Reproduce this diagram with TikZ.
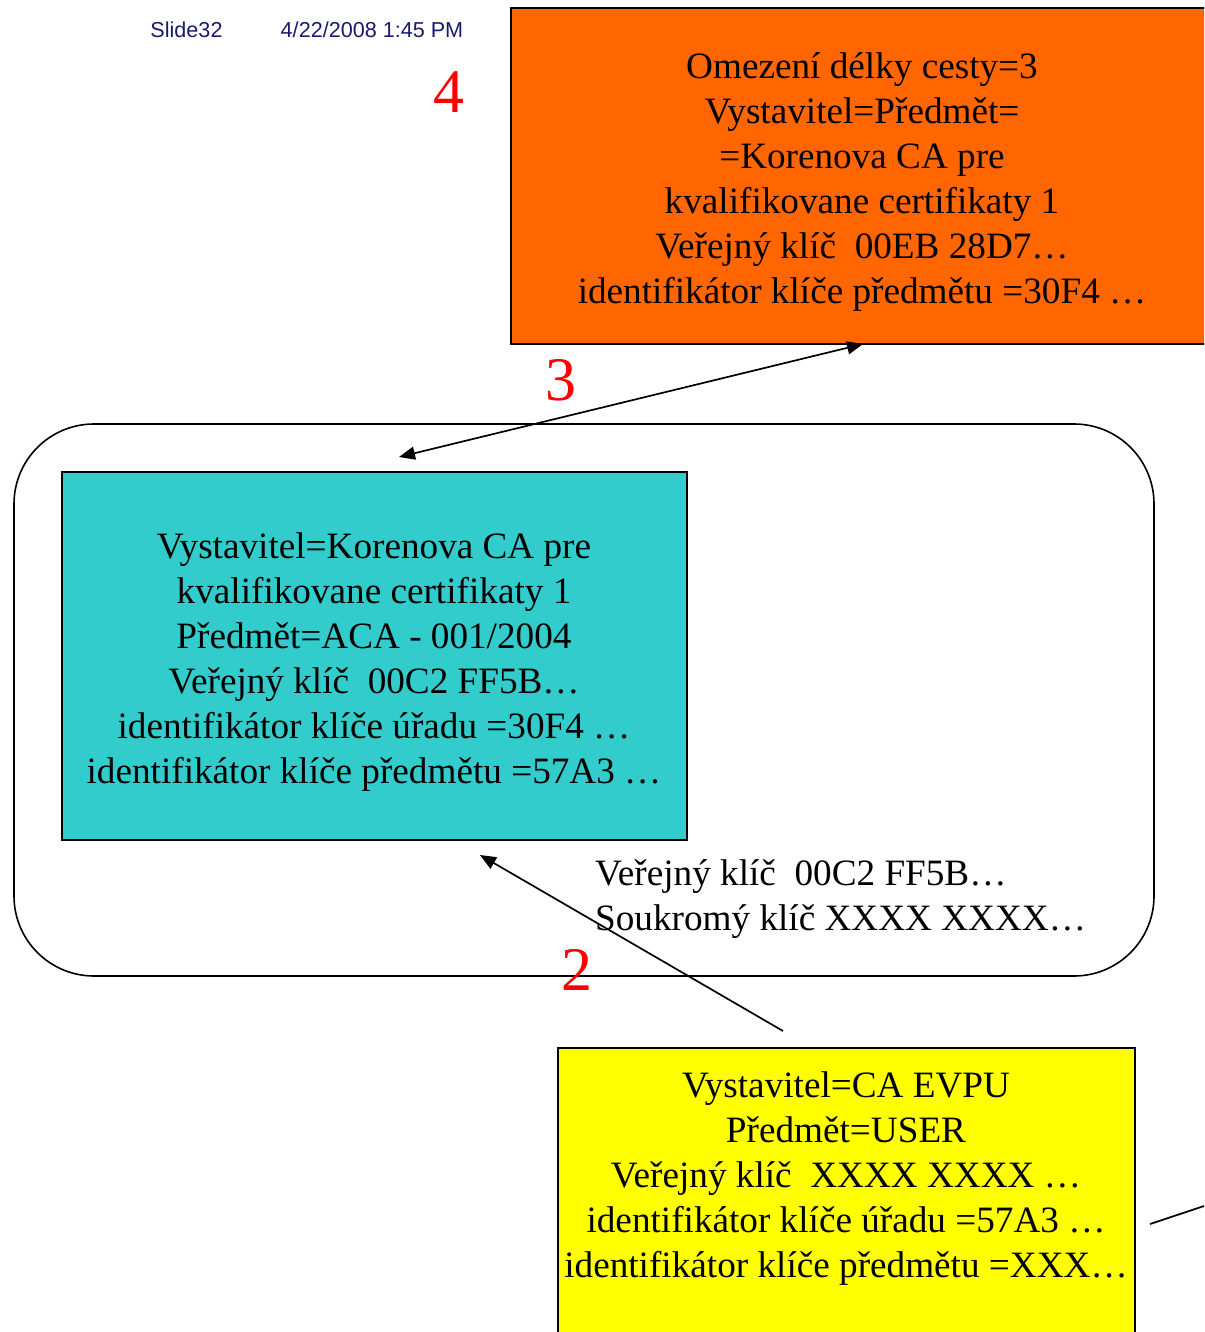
\documentclass[tikz,border=0pt]{standalone}
\usepackage{fontspec}
\setmainfont{Liberation Serif}
\newfontfamily\hdrfont{Liberation Sans}
\usetikzlibrary{arrows.meta}
\definecolor{orangebox}{HTML}{FF6600}
\definecolor{cyanbox}{HTML}{33CCCC}
\definecolor{yellowbox}{HTML}{FFFF00}
\definecolor{hdrblue}{HTML}{1A1A70}
\begin{document}
\begin{tikzpicture}[x=1pt,y=-1pt,
  boxtext/.style={align=center,font=\fontsize{37.2}{45}\selectfont,inner sep=0pt},
  hdr/.style={font=\hdrfont\fontsize{21.6}{24}\selectfont,text=hdrblue,inner sep=0pt},
  rednum/.style={font=\fontsize{62}{62}\selectfont,text=red,inner sep=0pt},
  certbox/.style={draw=black,line width=1.6pt,inner sep=0pt},
  conn/.style={line width=1.7pt},
  tip/.style={-{Triangle[length=16pt,width=13pt]}}]
\useasboundingbox (0,0) rectangle (1204,1332);
\clip (0,0) rectangle (1204,1332);
\fill[white] (0,0) rectangle (1204,1332);
% header
\node[hdr] (slide) at (186.5,30) {Slide32};
\node[hdr] (date) at (372,30) {4/22/2008 1:45 PM};
% orange box
\node[certbox,fill=orangebox,minimum width=700pt,minimum height=336pt] (root) at (861,176) {};
\node[boxtext] (roottext) at (862,182) {Omezení délky cesty=3\\Vystavitel=Předmět=\\=Korenova CA pre\\kvalifikovane certifikaty 1\\Veřejný klíč\ \ 00EB 28D7…\\identifikátor klíče předmětu =30F4 …};
% rounded container
\node[draw=black,line width=1.6pt,rounded corners=80pt,minimum width=1140pt,minimum height=552pt,inner sep=0pt] (group) at (584,700) {};
% cyan box
\node[certbox,fill=cyanbox,minimum width=625pt,minimum height=368pt] (aca) at (374.5,656) {};
\node[boxtext] (acatext) at (374,662) {Vystavitel=Korenova CA pre\\kvalifikovane certifikaty 1\\Předmět=ACA - 001/2004\\Veřejný klíč\ \ 00C2 FF5B…\\identifikátor klíče úřadu =30F4 …\\identifikátor klíče předmětu =57A3 …};
% keys text
\node[boxtext,align=left,anchor=west] (keys) at (595,899) {Veřejný klíč\ \ 00C2 FF5B…\\Soukromý klíč XXXX XXXX…};
% yellow box
\node[certbox,fill=yellowbox,minimum width=577pt,minimum height=300pt] (user) at (846.5,1198) {};
\node[boxtext] (usertext) at (846,1179) {Vystavitel=CA EVPU\\Předmět=USER\\Veřejný klíč\ \ XXXX XXXX …\\identifikátor klíče úřadu =57A3 …\\identifikátor klíče předmětu =XXX…};
% red numbers
\node[rednum] (n4) at (449,92) {4};
\node[rednum] (n3) at (561,380) {3};
\node[rednum] (n2) at (577,970) {2};
% connectors
\coordinate (a3s) at (399,457);
\coordinate (a3e) at (863,344);
\coordinate (a2s) at (783,1031);
\coordinate (a2e) at (480,855);
\coordinate (lns) at (1150,1224);
\coordinate (lne) at (1210,1204);
\draw[conn,{Triangle[length=16pt,width=13pt]}-{Triangle[length=16pt,width=13pt]}] (a3s) -- (a3e);
\draw[conn,tip] (a2s) -- (a2e);
\draw[conn] (lns) -- (lne);
\end{tikzpicture}
\end{document}
